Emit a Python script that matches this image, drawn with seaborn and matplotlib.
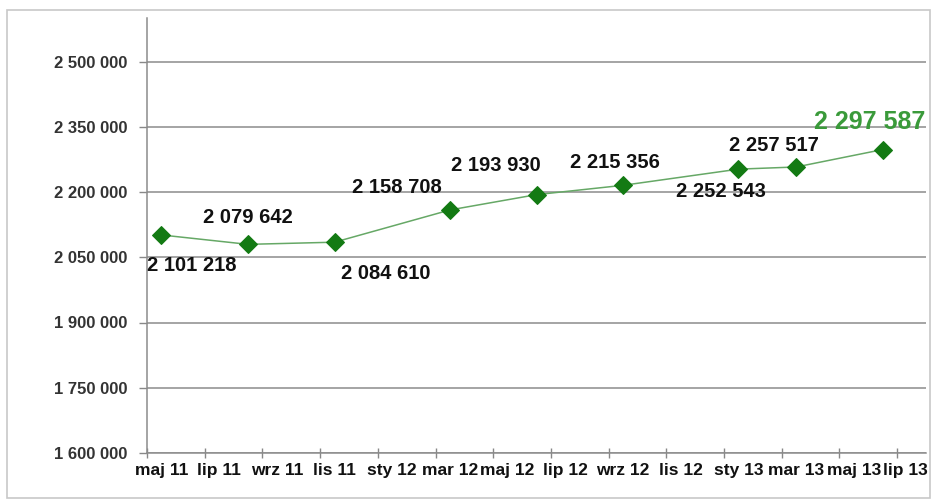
import numpy as np
import pandas as pd
import matplotlib
matplotlib.use("Agg")
import matplotlib.pyplot as plt
import matplotlib.ticker as mticker
import matplotlib.transforms as mtransforms
from matplotlib.patches import Rectangle
import seaborn as sns

# ---- data ----
dates = ["2011-05", "2011-08", "2011-11", "2012-03", "2012-06",
         "2012-09", "2013-01", "2013-03", "2013-06"]
values = [2101218, 2079642, 2084610, 2158708, 2193930,
          2215356, 2252543, 2257517, 2297587]
tick_labels = ["maj 11", "lip 11", "wrz 11", "lis 11", "sty 12", "mar 12", "maj 12",
               "lip 12", "wrz 12", "lis 12", "sty 13", "mar 13", "maj 13", "lip 13"]
y_ticks = [1600000, 1750000, 1900000, 2050000, 2200000, 2350000, 2500000]

# label offsets (pixels) relative to each point
label_offsets = [(30, -31), (0, 27), (51, -31), (-53, 22), (-41, 29),
                 (-8, 23), (-18, -22), (-22, 21), (-13, 28)]

# ---- build frame ----
start = pd.Period("2011-05", freq="M")
df = pd.DataFrame({"date": dates, "value": values})
df["m"] = [(pd.Period(d, freq="M") - start).n for d in df["date"]]

sns.set_theme(style="white")
plt.rcParams["font.family"] = ["Liberation Sans", "DejaVu Sans"]

fig = plt.figure(figsize=(9.32, 5.01), dpi=100)
W, H = 932, 501
ax = fig.add_axes([147 / W, 1 - 453 / H, (926 - 147) / W, (453 - 18) / H])

# outer border
fig.patches.append(Rectangle((7 / W, 1 - 498 / H), (930 - 7) / W, (498 - 10) / H,
                             transform=fig.transFigure, fill=False,
                             edgecolor="#c8c8c8", linewidth=1.2))

sns.lineplot(data=df, x="m", y="value", ax=ax, color="#66a866", linewidth=1.1,
             marker="D", markersize=9, markerfacecolor="#137a13",
             markeredgecolor="#137a13", zorder=3)

ax.set_xlim(-0.5, 26.5)
ax.set_ylim(1600000, 2600000)

ax.set_yticks(y_ticks)
ax.yaxis.set_major_formatter(mticker.FuncFormatter(lambda v, p: f"{v:,.0f}".replace(",", " ")))
ax.grid(axis="y", color="#8c8c8c", linewidth=1.1)
ax.set_axisbelow(True)

# x axis: tick marks at month boundaries every 2 months, labels centered on months
ax.set_xticks(np.arange(-0.5, 26.5, 2))
ax.xaxis.set_major_formatter(mticker.NullFormatter())
ax.set_xticks(np.arange(0, 27, 2), minor=True)
ax.set_xticklabels(tick_labels, minor=True)
ax.tick_params(axis="x", which="major", direction="inout", length=7, width=1, color="#888888", bottom=True)
ax.tick_params(axis="x", which="minor", length=0, pad=7, labelsize=12.5, labelcolor="#111111")
xlabels = ax.get_xticklabels(minor=True)
for t in xlabels:
    t.set_fontweight("bold")
# keep the last label inside the canvas
xlabels[-1].set_transform(xlabels[-1].get_transform() +
                          mtransforms.ScaledTranslation(-6 / 100, 0, fig.dpi_scale_trans))
ax.tick_params(axis="y", direction="out", length=6, width=1, color="#888888", left=True,
               labelsize=12, labelcolor="#333333", pad=8)
for t in ax.get_yticklabels():
    t.set_fontweight("bold")

for s in ["top", "right"]:
    ax.spines[s].set_visible(False)
for s in ["left", "bottom"]:
    ax.spines[s].set_color("#8c8c8c")
    ax.spines[s].set_linewidth(1.1)
ax.set_xlabel("")
ax.set_ylabel("")

# data labels
for i, (m, v) in enumerate(zip(df["m"], df["value"])):
    dx, dy = label_offsets[i]
    last = i == len(df) - 1
    ax.annotate(f"{v:,.0f}".replace(",", " "), (m, v), xytext=(dx, dy),
                textcoords="offset pixels", ha="center", va="center",
                fontsize=18 if last else 14.5, fontweight="bold",
                color="#3a9a3a" if last else "#111111", annotation_clip=False)

fig.savefig("out.png", dpi=100)
